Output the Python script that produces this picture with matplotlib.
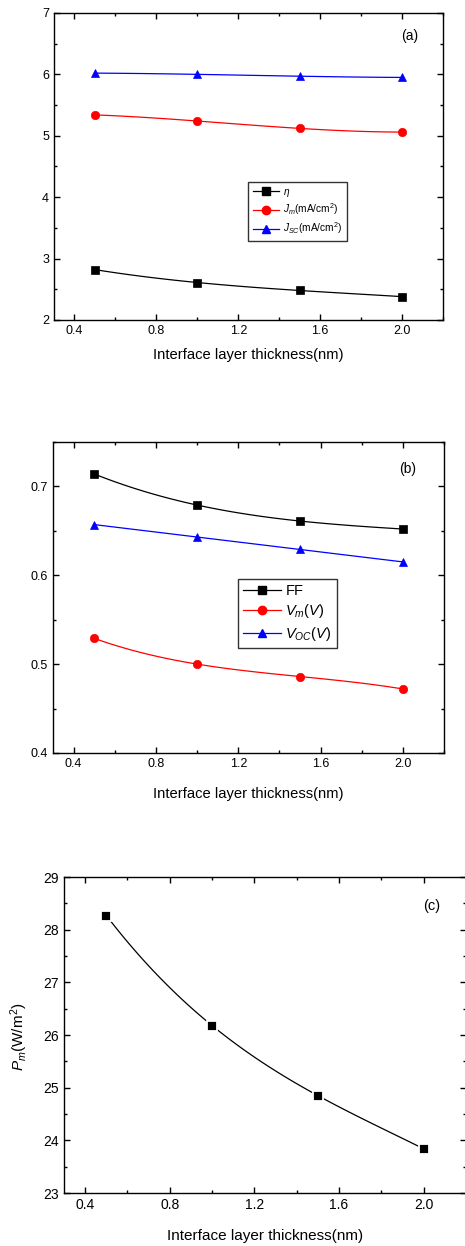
import numpy as np
import matplotlib
matplotlib.use("Agg")
import matplotlib.pyplot as plt
from matplotlib.ticker import MultipleLocator

plt.rcParams['font.family'] = ['Liberation Sans', 'DejaVu Sans']
plt.rcParams['mathtext.fontset'] = 'custom'
plt.rcParams['mathtext.rm'] = 'Liberation Sans'
plt.rcParams['mathtext.it'] = 'Liberation Sans:italic'

# ====== data ======
thickness = [0.5, 1.0, 1.5, 2.0]

eta = [2.82, 2.61, 2.48, 2.38]
j_m = [5.34, 5.24, 5.12, 5.06]
j_sc = [6.02, 6.00, 5.97, 5.95]

ff = [0.714, 0.679, 0.661, 0.652]
v_m = [0.529, 0.500, 0.486, 0.472]
v_oc = [0.657, 0.643, 0.629, 0.615]

p_m = [28.27, 26.18, 24.85, 23.84]

xlabel = "Interface layer thickness(nm)"


def smooth(x, y):
    # smooth connecting curve through the points (like Origin's spline line)
    c = np.polyfit(x, y, len(x) - 1)
    xs = np.linspace(min(x), max(x), 120)
    return xs, np.polyval(c, xs)


def style_axes(ax, ymaj, ymin, fs):
    ax.set_xlim(0.3, 2.2)
    ax.xaxis.set_major_locator(MultipleLocator(0.4))
    ax.xaxis.set_minor_locator(MultipleLocator(0.2))
    ax.yaxis.set_major_locator(MultipleLocator(ymaj))
    ax.yaxis.set_minor_locator(MultipleLocator(ymin))
    ax.tick_params(which='both', direction='in', top=True, right=True, labelsize=fs, width=1)
    ax.tick_params(which='major', length=4.5)
    ax.tick_params(which='minor', length=2.5)
    ax.xaxis.set_major_formatter(plt.FuncFormatter(lambda v, p: f"{v:.1f}"))
    for s in ax.spines.values():
        s.set_linewidth(1.0)


def draw(ax, y, color, marker, label, ms=5.5):
    xs, ys = smooth(thickness, y)
    ax.plot(xs, ys, color=color, lw=0.9)
    ax.plot(thickness, y, ls='none', marker=marker, color=color, ms=ms, mew=0.5)
    # legend proxy
    ax.plot([], [], color=color, lw=0.9, marker=marker, ms=ms, label=label)


fig = plt.figure(figsize=(4.65, 12.46), dpi=100)

# ---- (a) ----
ax1 = fig.add_axes([0.116, 0.7432, 0.837, 0.2464])
draw(ax1, eta, 'black', 's', r'$\eta$', ms=5.2)
draw(ax1, j_m, 'red', 'o', r'$J_m$(mA/cm$^2$)', ms=6)
draw(ax1, j_sc, 'blue', '^', r'$J_{SC}$(mA/cm$^2$)', ms=6.2)
ax1.set_ylim(2, 7)
style_axes(ax1, 1, 0.5, 9)
ax1.set_xlabel(xlabel, fontsize=10.6)
ax1.xaxis.set_label_coords(0.5, -0.09)
ax1.text(0.913, 0.925, "(a)", transform=ax1.transAxes, ha='center', va='center', fontsize=10)
leg = ax1.legend(loc='upper left', bbox_to_anchor=(0.499, 0.4495), borderaxespad=0,
                 fontsize=7.3, fancybox=False, edgecolor='black', handlelength=2.6,
                 labelspacing=0.3, handletextpad=0.4, borderpad=0.45)
leg.get_frame().set_linewidth(1.0)

# ---- (b) ----
ax2 = fig.add_axes([0.114, 0.3957, 0.841, 0.2496])
draw(ax2, ff, 'black', 's', 'FF', ms=5.5)
draw(ax2, v_m, 'red', 'o', r'$V_m(V)$', ms=6)
draw(ax2, v_oc, 'blue', '^', r'$V_{OC}(V)$', ms=6.2)
ax2.set_ylim(0.4, 0.75)
style_axes(ax2, 0.1, 0.05, 9)
ax2.set_xlabel(xlabel, fontsize=10.6)
ax2.xaxis.set_label_coords(0.5, -0.11)
ax2.text(0.908, 0.913, "(b)", transform=ax2.transAxes, ha='center', va='center', fontsize=10)
leg = ax2.legend(loc='upper left', bbox_to_anchor=(0.473, 0.5595), borderaxespad=0,
                 fontsize=10.5, fancybox=False, edgecolor='black', handlelength=2.6,
                 labelspacing=0.3, handletextpad=0.3, borderpad=0.35)
leg.get_frame().set_linewidth(1.0)

# ---- (c) ----
ax3 = fig.add_axes([0.1376, 0.0425, 0.8645, 0.2536])
xs, ys = smooth(thickness, p_m)
ax3.plot(xs, ys, color='black', lw=0.9)
ax3.plot(thickness, p_m, ls='none', marker='s', color='black', ms=7, mec='white', mew=1.3)
ax3.set_ylim(23, 29)
style_axes(ax3, 1, 0.5, 10)
ax3.set_xlabel(xlabel, fontsize=11)
ax3.xaxis.set_label_coords(0.5, -0.115)
ax3.set_ylabel(r'$P_m$(W/m$^2$)', fontsize=11)
ax3.yaxis.set_label_coords(-0.085, 0.494)
ax3.text(0.915, 0.908, "(c)", transform=ax3.transAxes, ha='center', va='center', fontsize=10.5)

fig.savefig("out.png", dpi=100)
